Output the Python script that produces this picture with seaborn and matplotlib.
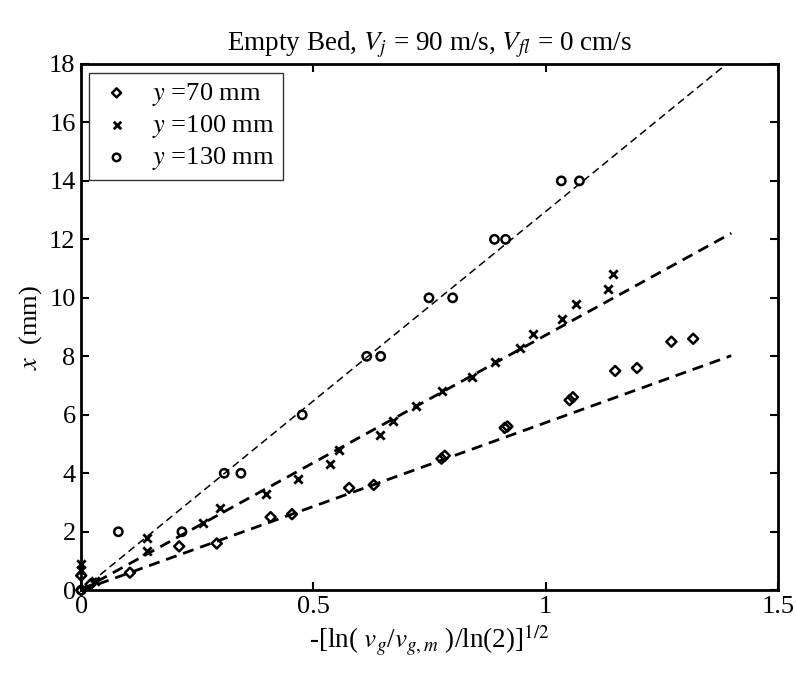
"""
Recreate the empty-bed jet penetration chart with seaborn.
"""

import matplotlib

matplotlib.use("Agg")

import matplotlib.pyplot as plt
import numpy as np
import pandas as pd
import seaborn as sns

# y = 70 mm (diamonds)
X_70 = [0.0, 0.0, 0.02, 0.105, 0.211, 0.292, 0.408, 0.454, 0.577, 0.63,
        0.776, 0.783, 0.912, 0.918, 1.052, 1.059, 1.15, 1.197, 1.271, 1.318]
Y_70 = [0.5, 0.0, 0.2, 0.6, 1.5, 1.6, 2.5, 2.6, 3.5, 3.6,
        4.5, 4.6, 5.55, 5.6, 6.5, 6.6, 7.5, 7.6, 8.5, 8.6]

# y = 100 mm (crosses)
X_100 = [0.0, 0.0, 0.03, 0.142, 0.142, 0.263, 0.30, 0.398, 0.466, 0.535,
         0.555, 0.643, 0.672, 0.72, 0.778, 0.841, 0.892, 0.946, 0.974,
         1.036, 1.066, 1.134, 1.146]
Y_100 = [0.9, 0.7, 0.3, 1.8, 1.34, 2.3, 2.8, 3.3, 3.8, 4.3,
         4.8, 5.3, 5.8, 6.3, 6.8, 7.3, 7.8, 8.3, 8.77,
         9.28, 9.8, 10.3, 10.8]

# y = 130 mm (circles)
X_130 = [0.0, 0.08, 0.217, 0.308, 0.344, 0.476, 0.615, 0.645, 0.749, 0.80,
         0.89, 0.914, 1.034, 1.073]
Y_130 = [0.0, 2.0, 2.0, 4.0, 4.0, 6.0, 8.0, 8.0, 10.0, 10.0,
         12.0, 12.0, 14.0, 14.0]

# fitted lines through the origin
FIT_X = [0.0, 1.4]
FIT_SLOPES = [5.73, 8.72, 12.95]

SERIES_LABELS = ["$y$ =70 mm", "$y$ =100 mm", "$y$ =130 mm"]
SERIES_MARKERS = ["D", "x", "o"]


def main() -> None:
    sns.set_theme(style="white")
    plt.rcParams["font.family"] = ["Liberation Serif", "DejaVu Serif"]
    plt.rcParams["mathtext.fontset"] = "stix"
    plt.rcParams["text.color"] = "black"
    plt.rcParams["axes.labelcolor"] = "black"

    fig = plt.figure(figsize=(7.96, 6.73), dpi=100)
    ax = fig.add_axes([0.102, 0.123, 0.875, 0.782])

    series = [(X_70, Y_70), (X_100, Y_100), (X_130, Y_130)]
    line_styles = [
        dict(lw=2.0, dashes=(4, 2.5)),
        dict(lw=2.0, dashes=(4, 2.5)),
        dict(lw=1.1, dashes=(5, 3)),
    ]

    for (xs, ys), slope, style in zip(series, FIT_SLOPES, line_styles):
        fit = pd.DataFrame({"x": FIT_X, "y": slope * np.array(FIT_X)})
        sns.lineplot(data=fit, x="x", y="y", ax=ax, color="black", **style)

    for (xs, ys), label, marker in zip(series, SERIES_LABELS, SERIES_MARKERS):
        df = pd.DataFrame({"x": xs, "y": ys})
        if marker == "x":
            sns.scatterplot(data=df, x="x", y="y", ax=ax, marker="x",
                            color="black", s=36, linewidth=2.0, label=label,
                            zorder=3, clip_on=False)
        else:
            size = 26 if marker == "D" else 36
            sns.scatterplot(data=df, x="x", y="y", ax=ax, marker=marker,
                            facecolors="none", edgecolor="black", s=size,
                            linewidth=1.8, label=label, zorder=3,
                            clip_on=False)

    ax.set_xlim(0, 1.5)
    ax.set_ylim(0, 18)
    ax.set_xticks([0, 0.5, 1, 1.5])
    ax.set_xticklabels(["0", "0.5", "1", "1.5"])
    ax.set_yticks(range(0, 19, 2))

    for side in ["left", "bottom", "top", "right"]:
        ax.spines[side].set_color("black")
        ax.spines[side].set_linewidth(2.0)

    ax.tick_params(direction="in", length=6, width=1.5, labelsize=19,
                   top=True, right=True, left=True, bottom=True,
                   colors="black", pad=4)

    ax.set_title("Empty Bed, $V_j$ = 90 m/s, $V_{fl}$ = 0 cm/s",
                 fontsize=19.5, pad=10, color="black")
    ax.set_xlabel("-[ln( $v_g$/$v_{g,m}$ )/ln(2)]$^{1/2}$", fontsize=19.5,
                  color="black")
    ax.set_ylabel("$x$  (mm)", fontsize=19, color="black")

    leg = ax.legend(loc="upper left", bbox_to_anchor=(0.011, 0.983),
                    borderaxespad=0, fontsize=19, frameon=True,
                    fancybox=False, edgecolor="black", handletextpad=0.6,
                    labelspacing=0.2, borderpad=0.3, handlelength=1.5,
                    markerscale=0.9)
    leg.get_frame().set_linewidth(1.0)
    for text in leg.get_texts():
        text.set_color("black")

    fig.savefig("out.png", dpi=100)


if __name__ == "__main__":
    main()
